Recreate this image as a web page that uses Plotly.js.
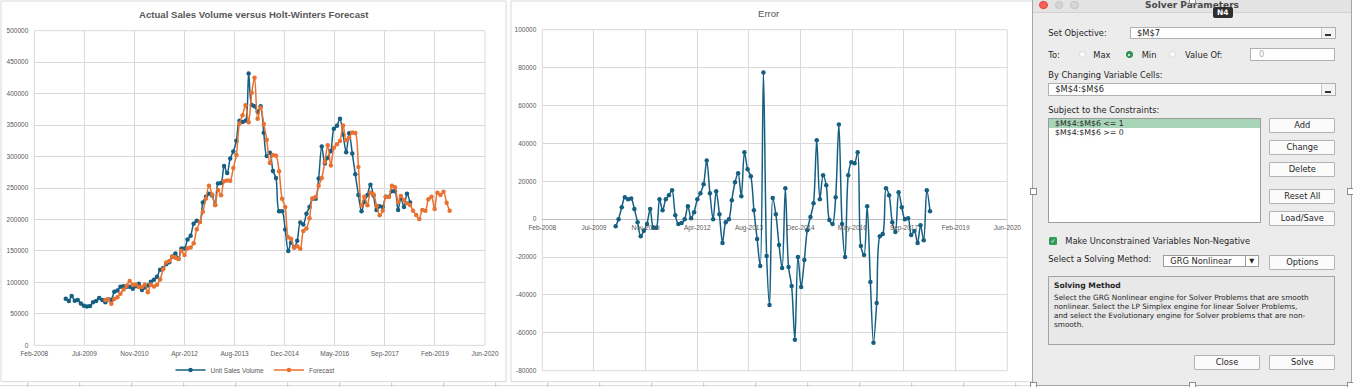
<!DOCTYPE html>
<html><head><meta charset="utf-8">
<script src="https://cdn.plot.ly/plotly-3.0.1.min.js"></script>
<style>
html,body{margin:0;padding:0;width:1353px;height:387px;overflow:hidden;background:#fff;}
#chart{position:absolute;left:0;top:0;width:1353px;height:387px;}
.t{position:absolute;white-space:nowrap;font-size:8.3px;line-height:10px;height:10px;font-family:"DejaVu Sans",sans-serif;color:#262626;}
.b{position:absolute;box-sizing:border-box;background:#fbfbfb;border:1px solid #b3b3b3;border-radius:1px;text-align:center;font-size:8.3px;font-family:"DejaVu Sans",sans-serif;color:#262626;height:15px;line-height:13px;width:66px;}
.in{position:absolute;box-sizing:border-box;background:#fff;border:1px solid #b0b0b0;font-size:8.3px;font-family:"DejaVu Sans",sans-serif;color:#262626;line-height:10.5px;padding-left:6px;white-space:nowrap;}
.rb{position:absolute;right:0;top:0;bottom:0;width:13px;border-left:1px solid #c4c4c4;background:#f3f3f3;}
.rb i{position:absolute;left:3px;bottom:1.5px;width:6px;height:2px;background:#333;}
.h{position:absolute;width:5px;height:5px;background:#fff;border:1px solid #8c8c8c;}
.dot{position:absolute;border-radius:50%;box-sizing:border-box;}
</style>
</head><body>
<div id="chart"></div>

<!-- Solver dialog -->
<div style="position:absolute;left:1032px;top:0;width:320px;height:386px;background:#ececec;box-sizing:border-box;border:1px solid #a6a6a6;border-top:none;"></div>
<div style="position:absolute;left:1033px;top:0;width:318px;height:11.5px;background:#e3e3e3;border-bottom:1px solid #d2d2d2;"></div>
<div class="dot" style="left:1039px;top:0.7px;width:8.5px;height:8.5px;background:#fc5f57;border:0.5px solid #de4a42;"></div>
<div class="dot" style="left:1054.8px;top:0.7px;width:8.5px;height:8.5px;background:#d6d6d6;border:0.5px solid #c4c4c4;"></div>
<div class="dot" style="left:1070.1px;top:0.7px;width:8.5px;height:8.5px;background:#d6d6d6;border:0.5px solid #c4c4c4;"></div>
<div class="t" style="left:1032px;width:320px;text-align:center;top:0px;font-weight:bold;font-size:9px;color:#4a4a4a;">Solver Parameters</div>
<div style="position:absolute;left:1212.7px;top:7.3px;width:20px;height:11px;background:#2e2e2e;border-radius:2px;color:#fff;font:bold 7.5px 'DejaVu Sans',sans-serif;line-height:11px;text-align:center;">N4</div>

<div class="t" style="left:1048.3px;top:27.7px;">Set Objective:</div>
<div class="in" style="left:1130px;top:26.7px;width:206px;height:12.3px;">$M$7<div class="rb"><i></i></div></div>

<div class="t" style="left:1048.3px;top:49.7px;">To:</div>
<div class="dot" style="left:1079px;top:51.4px;width:6.6px;height:6.6px;background:#fafafa;border:1px solid #d8d8d8;"></div>
<div class="t" style="left:1093.3px;top:49.7px;">Max</div>
<div class="dot" style="left:1126px;top:51.4px;width:6.6px;height:6.6px;background:#2f9a55;border:1px solid #25814a;"><div class="dot" style="left:1.3px;top:1.3px;width:2px;height:2px;background:#fff;"></div></div>
<div class="t" style="left:1141.7px;top:49.7px;">Min</div>
<div class="dot" style="left:1169.4px;top:51.4px;width:6.6px;height:6.6px;background:#fafafa;border:1px solid #d8d8d8;"></div>
<div class="t" style="left:1185px;top:49.7px;">Value Of:</div>
<div class="in" style="left:1250px;top:48.3px;width:85.3px;height:12.3px;color:#b0b0b0;padding-left:8px;">0</div>

<div class="t" style="left:1048.3px;top:70px;">By Changing Variable Cells:</div>
<div class="in" style="left:1048.3px;top:83.3px;width:287.7px;height:12.3px;">$M$4:$M$6<div class="rb"><i></i></div></div>

<div class="t" style="left:1048.3px;top:105px;">Subject to the Constraints:</div>
<div style="position:absolute;left:1048.3px;top:118.3px;width:212.4px;height:105px;box-sizing:border-box;background:#fff;border:1px solid #9c9c9c;"></div>
<div style="position:absolute;left:1049.3px;top:119.3px;width:210.4px;height:8.6px;background:#a8d5b8;"></div>
<div class="t" style="left:1055px;top:118.7px;font-size:7.8px;">$M$4:$M$6 &lt;= 1</div>
<div class="t" style="left:1055px;top:128.3px;font-size:7.8px;">$M$4:$M$6 &gt;= 0</div>

<div class="b" style="left:1269.3px;top:118.3px;">Add</div>
<div class="b" style="left:1269.3px;top:140.3px;">Change</div>
<div class="b" style="left:1269.3px;top:162.3px;">Delete</div>
<div class="b" style="left:1269.3px;top:189.3px;">Reset All</div>
<div class="b" style="left:1269.3px;top:211.3px;">Load/Save</div>

<div style="position:absolute;left:1049.3px;top:237.3px;width:7.4px;height:7.4px;background:#2f9a55;border-radius:1.5px;color:#fff;font:bold 6px 'DejaVu Sans',sans-serif;line-height:7.4px;text-align:center;">✓</div>
<div class="t" style="left:1065.3px;top:236px;">Make Unconstrained Variables Non-Negative</div>

<div class="t" style="left:1048.3px;top:254.3px;">Select a Solving Method:</div>
<div class="in" style="left:1163.3px;top:254.7px;width:95.4px;height:12.3px;border-color:#9c9c9c;">GRG Nonlinear<div style="position:absolute;right:0;top:0;bottom:0;width:12px;border-left:1px solid #9c9c9c;background:#fff;font-size:6.5px;line-height:10.5px;text-align:center;color:#222;">▼</div></div>
<div class="b" style="left:1269.3px;top:254.7px;">Options</div>

<div style="position:absolute;left:1048.3px;top:276px;width:287px;height:69.3px;box-sizing:border-box;border:1px solid #a3a3a3;background:#e8e8e8;"></div>
<div class="t" style="left:1054px;top:281px;font-weight:bold;font-size:7.6px;">Solving Method</div>
<div class="t" style="left:1054px;top:294.2px;font-size:7.3px;line-height:8.9px;height:auto;">Select the GRG Nonlinear engine for Solver Problems that are smooth<br>nonlinear. Select the LP Simplex engine for linear Solver Problems,<br>and select the Evolutionary engine for Solver problems that are non-<br>smooth.</div>

<div class="b" style="left:1194px;top:355.3px;">Close</div>
<div class="b" style="left:1269.3px;top:355.3px;">Solve</div>

<div class="h" style="left:1030px;top:188px;"></div>
<div class="h" style="left:1347px;top:188px;"></div>
<div class="h" style="left:1189px;top:-3px;"></div>
<div class="h" style="left:1189px;top:382px;"></div>
<div class="h" style="left:1030px;top:382px;"></div>
<div class="h" style="left:1347px;top:382px;"></div>

<script>
// ---------- data ----------
const salesStart = [2009, 1];     // first month of Unit Sales Volume
const forecastStart = [2010, 2];  // first month of Forecast
const errorStart = [2010, 2];     // first month of Error

const unitSalesVolume = [
  74000, 70500, 78500, 71000, 72000, 66500, 63000, 61500, 62500, 68500,
  70500, 75000, 72000, 68300, 73000, 72500, 85000, 87000, 93000, 94000,
  93000, 93000, 90000, 94000, 98000, 88000, 92000, 95000, 101000, 104000,
  109000, 120000, 123000, 129000, 132000, 141000, 146000, 137500, 154000, 154000,
  168000, 174000, 193000, 198000, 196000, 227000, 236000, 241000, 238000, 223000,
  257000, 258000, 285000, 274000, 297000, 308000, 325000, 357000, 355000, 357000,
  432000, 382000, 380000, 371000, 380000, 338000, 301000, 306000, 277000, 266000,
  213000, 213000, 184000, 150000, 163000, 156000, 166000, 195000, 192000, 209000,
  220000, 233000, 233000, 265000, 316000, 289000, 298000, 309000, 344000, 349000,
  360000, 335000, 307000, 337000, 305000, 272000, 239000, 213000, 228000, 239000,
  255000, 238000, 215000, 221000, 220000, 236000, 236000, 245000, 245000, 215000,
  234000, 220000, 241000, 227000
];

const forecast = [
  72000, 73000, 66200, 73400, 76500, 82100, 88700, 94600, 102000, 96100,
  96500, 92700, 92600, 96600, 84500, 96300, 93500, 96400, 104700, 120900,
  131600, 134100, 141000, 139200, 137000, 150300, 143500, 154300, 155600, 162000,
  184300, 196000, 212300, 233400, 253600, 239600, 223000, 247000, 238500, 260800,
  261900, 261700, 281700, 302400, 352300, 365500, 381700, 354600, 401500, 425300,
  359900, 377400, 351700, 326800, 289700, 302300, 301300, 276700, 233000, 219800,
  171600, 168800, 155000, 157600, 153400, 181500, 185800, 202100, 233500, 235600,
  253400, 266000, 291600, 318000, 285800, 314000, 319500, 324700, 349200, 325900,
  330200, 338200, 337300, 283200, 222000, 235900, 222700, 242400, 239600, 221800,
  206800, 213700, 236000, 235500, 253400, 251300, 227600, 237200, 231100, 225700,
  222800, 214000, 207000, 200700, 215000, 214000, 232000, 236000, 216600, 242500,
  238900, 244000, 226700, 214000
];

const errorValues = [
  -3700, 0, 6300, 11600, 10500, 10900, 5300, -1600, -9000, -6100,
  -2500, 5300, -4600, -4600, 10500, 4700, 10500, 12600, 15300, 2100,
  -2600, -2100, 0, 6800, 500, 3700, 10500, 13700, 18400, 31000,
  13700, 0, 14700, 2600, -12600, -1600, 0, 10000, 19500, 24200,
  12100, 35300, 26300, 22600, 4700, -10500, -24700, 77400, -19500, -45300,
  11100, 2600, -13700, -25800, 16300, -25300, -35300, -63700, -20000, -35800,
  -21600, -5800, 1100, 8400, 41600, 10500, 23200, 17900, -500, -2600,
  11600, 50000, -2600, -20000, 23200, 30000, 29500, 35300, -14200, -18900,
  6800, -33200, -65300, -44200, -9000, -7900, 16300, 12600, -1600, -6800,
  14200, 6300, 0, 500, -8400, -6300, -12600, -3200, -11100, 15300,
  4200
];

const dateTickValues = ['2008-02-22','2009-07-06','2010-11-18','2012-04-01','2013-08-14',
  '2014-12-27','2016-05-10','2017-09-22','2019-02-04','2020-06-18'];
const dateTickLabels = ['Feb-2008','Jul-2009','Nov-2010','Apr-2012','Aug-2013',
  'Dec-2014','May-2016','Sep-2017','Feb-2019','Jun-2020'];
const salesTickValues = [0,50000,100000,150000,200000,250000,300000,350000,400000,450000,500000];
const salesTickLabels = ['0','50000','100000','150000','200000','250000','300000','350000','400000','450000','500000'];
const errorTickValues = [-80000,-60000,-40000,-20000,0,20000,40000,60000,80000,100000];
const errorTickLabels = ['-80000','-60000','-40000','-20000','0','20000','40000','60000','80000','100000'];

const seriesNames = ['Unit Sales Volume', 'Forecast'];
const titles = ['Actual Sales Volume versus Holt-Winters Forecast', 'Error'];

// ---------- helpers ----------
function monthSeq(start, n) {
  const out = [];
  let y = start[0], m = start[1];
  for (let i = 0; i < n; i++) {
    out.push(y + '-' + String(m).padStart(2, '0') + '-01');
    m++; if (m > 12) { m = 1; y++; }
  }
  return out;
}
const W = 1353, H = 387;
const px = x => x / W;
const py = y => 1 - y / H;

const BLUE = '#156082', ORANGE = '#E97132', GRID = '#d9d9d9', TXT = '#595959';

const traces = [
  {x: monthSeq(salesStart, unitSalesVolume.length), y: unitSalesVolume, name: seriesNames[0],
   type: 'scatter', mode: 'lines+markers', xaxis: 'x', yaxis: 'y',
   line: {color: BLUE, width: 1.5, shape: 'spline', smoothing: 0.9},
   marker: {color: BLUE, size: 4.5}},
  {x: monthSeq(forecastStart, forecast.length), y: forecast, name: seriesNames[1],
   type: 'scatter', mode: 'lines+markers', xaxis: 'x', yaxis: 'y',
   line: {color: ORANGE, width: 1.5, shape: 'spline', smoothing: 0.9},
   marker: {color: ORANGE, size: 4.5}},
  {x: monthSeq(errorStart, errorValues.length), y: errorValues, name: titles[1],
   type: 'scatter', mode: 'lines+markers', xaxis: 'x2', yaxis: 'y2', showlegend: false,
   line: {color: BLUE, width: 1.5, shape: 'spline', smoothing: 0.9},
   marker: {color: BLUE, size: 4.5}}
];

const xRange = [dateTickValues[0], dateTickValues[dateTickValues.length - 1]];
const tickFont = {family: 'Liberation Sans, Arial, sans-serif', size: 6.5, color: TXT};

const shapes = [
  {type: 'rect', xref: 'paper', yref: 'paper', x0: px(1), x1: px(506), y0: py(381.7), y1: py(1),
   line: {color: GRID, width: 1}, layer: 'below'},
  {type: 'rect', xref: 'paper', yref: 'paper', x0: px(511), x1: px(1040), y0: py(381.7), y1: py(1),
   line: {color: GRID, width: 1}, layer: 'below'},
  {type: 'rect', xref: 'x domain', yref: 'y domain', x0: 0, x1: 1, y0: 0, y1: 1,
   line: {color: GRID, width: 1}, layer: 'below'},
  {type: 'rect', xref: 'x2 domain', yref: 'y2 domain', x0: 0, x1: 1, y0: 0, y1: 1,
   line: {color: GRID, width: 1}, layer: 'below'},
  {type: 'line', xref: 'paper', yref: 'paper', x0: 0, x1: px(1032), y0: py(385.5), y1: py(385.5),
   line: {color: '#dcdcdc', width: 1}, layer: 'below'}
];
for (let k = 0; k < 20; k++) {
  const cx = 27.7 + 52 * k;
  shapes.push({type: 'line', xref: 'paper', yref: 'paper', x0: px(cx), x1: px(cx), y0: py(382.5), y1: py(387),
    line: {color: '#c8c8c8', width: 1}, layer: 'below'});
}

const layout = {
  width: W, height: H,
  margin: {l: 0, r: 0, t: 0, b: 0, pad: 0},
  paper_bgcolor: '#ffffff', plot_bgcolor: 'rgba(0,0,0,0)',
  font: {family: 'Liberation Sans, Arial, sans-serif', size: 6.5, color: TXT},
  showlegend: true,
  legend: {orientation: 'h', x: px(255), xanchor: 'center', y: py(370), yanchor: 'middle',
    font: {family: 'Liberation Sans, Arial, sans-serif', size: 6.5, color: TXT},
    bgcolor: 'rgba(0,0,0,0)', itemwidth: 30, tracegroupgap: 0},
  xaxis: {type: 'date', domain: [px(34.3), px(485)], range: xRange, anchor: 'y',
    tickmode: 'array', tickvals: dateTickValues, ticktext: dateTickLabels,
    showgrid: true, gridcolor: GRID, gridwidth: 1, zeroline: false, showline: false,
    ticks: '', tickfont: tickFont, ticklabelstandoff: 3},
  yaxis: {domain: [py(345.3), py(30.7)], range: [0, 500000], anchor: 'x',
    tickmode: 'array', tickvals: salesTickValues, ticktext: salesTickLabels,
    showgrid: true, gridcolor: GRID, gridwidth: 1, zeroline: false, showline: false,
    ticks: '', tickfont: tickFont, ticklabelstandoff: 5},
  xaxis2: {type: 'date', domain: [px(542.3), px(1007.3)], range: xRange,
    anchor: 'free', position: py(219.1),
    tickmode: 'array', tickvals: dateTickValues, ticktext: dateTickLabels,
    showgrid: true, gridcolor: GRID, gridwidth: 1, zeroline: false, showline: false,
    ticks: '', tickfont: tickFont, ticklabelstandoff: 3},
  yaxis2: {domain: [py(370.7), py(29.7)], range: [-80000, 100000], anchor: 'x2',
    tickmode: 'array', tickvals: errorTickValues, ticktext: errorTickLabels,
    showgrid: true, gridcolor: GRID, gridwidth: 1,
    zeroline: true, zerolinecolor: '#bcbcbc', zerolinewidth: 1, showline: false,
    ticks: '', tickfont: tickFont, ticklabelstandoff: 5},
  shapes: shapes,
  annotations: [
    {xref: 'paper', yref: 'paper', x: px(254), y: py(14.3), xanchor: 'center', yanchor: 'middle',
     showarrow: false, text: '<b>' + titles[0] + '</b>',
     font: {family: 'Liberation Sans, Arial, sans-serif', size: 9.6, color: TXT}},
    {xref: 'paper', yref: 'paper', x: px(769), y: py(13.3), xanchor: 'center', yanchor: 'middle',
     showarrow: false, text: titles[1],
     font: {family: 'Liberation Sans, Arial, sans-serif', size: 9.6, color: TXT}}
  ]
};

Plotly.newPlot('chart', traces, layout, {staticPlot: true, displayModeBar: false});
</script>
</body></html>
